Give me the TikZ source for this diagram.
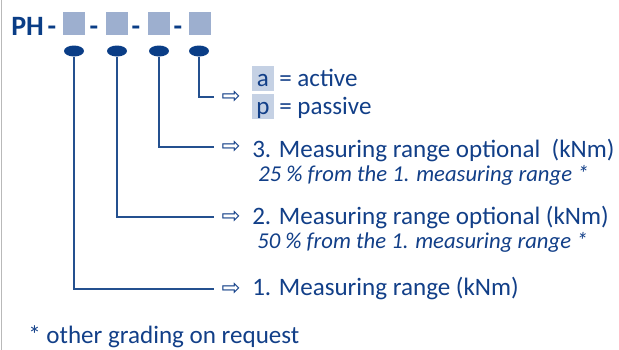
\documentclass[tikz,border=0pt]{standalone}
\usepackage{fontspec}
\setmainfont{Carlito}
\newfontfamily\arrowfont{DejaVu Sans}
\usetikzlibrary{shapes.geometric, positioning}

\definecolor{codeblue}{HTML}{0A3D86}
\definecolor{textblue}{HTML}{123F88}
\definecolor{leadblue}{HTML}{24508F}
\definecolor{slotblue}{HTML}{9DAFCF}
\definecolor{selblue}{HTML}{C5D1E4}

\begin{document}
\begin{tikzpicture}[x=0.75pt, y=-0.75pt,
    codetext/.style={inner sep=0pt, anchor=base, text=codeblue, font=\fontsize{21}{24}\selectfont\bfseries},
    slotbox/.style={rectangle, fill=slotblue, minimum width=16.5pt, minimum height=17.25pt, inner sep=0pt},
    dotmark/.style={ellipse, fill=codeblue, minimum width=15pt, minimum height=8.25pt, inner sep=0pt},
    leader/.style={draw=leadblue, line width=1pt},
    arrowsign/.style={inner sep=0pt, outer xsep=6pt, text=textblue, font=\arrowfont\fontsize{17}{19}\selectfont},
    rangetext/.style={inner sep=0pt, anchor=base west, text=textblue, font=\fontsize{18.8}{22}\selectfont},
    notetext/.style={inner sep=0pt, anchor=base west, text=textblue, font=\fontsize{17}{20}\selectfont\itshape},
    selbox/.style={rectangle, fill=selblue, anchor=base, minimum width=16.5pt, inner xsep=0pt, inner ysep=0pt,
      text height=15pt, text depth=3.75pt, text=textblue, font=\fontsize{18.8}{22}\selectfont}]
  \useasboundingbox (0,0) rectangle (619,350);
  \draw[gray!55, line width=1.1pt] (1.5,0) -- (1.5,350);

  % type code
  \node[codetext, anchor=base west] (ph) at (11,35) {PH};
  \node[codetext] (d1) at (52,35) {-};
  \node[slotbox] (sq1) at (74,23.5) {};
  \node[codetext] (d2) at (94,35) {-};
  \node[slotbox] (sq2) at (116.5,23.5) {};
  \node[codetext] (d3) at (136,35) {-};
  \node[slotbox] (sq3) at (158.5,23.5) {};
  \node[codetext] (d4) at (178,35) {-};
  \node[slotbox] (sq4) at (199.5,23.5) {};

  \node[dotmark] (dot1) at (74,51) {};
  \node[dotmark] (dot2) at (117,51) {};
  \node[dotmark] (dot3) at (159,51) {};
  \node[dotmark] (dot4) at (199,51) {};

  % arrows
  \node[arrowsign] (arr4) at (231,97) {⇨};
  \node[arrowsign] (arr3) at (231,147) {⇨};
  \node[arrowsign] (arr2) at (231,217) {⇨};
  \node[arrowsign] (arr1) at (231,289) {⇨};

  \draw[leader] (dot4.south) |- (arr4.west);
  \draw[leader] (dot3.south) |- (arr3.west);
  \draw[leader] (dot2.south) |- (arr2.west);
  \draw[leader] (dot1.south) |- (arr1.west);

  % meanings
  \node[selbox] (boxa) at (263,86) {a};
  \node[rangetext] (act) at (279,86) {= active};
  \node[selbox] (boxp) at (263,114) {p};
  \node[rangetext] (pas) at (279,114) {= passive};

  \node[rangetext] (rng3) at (252,157) {3. Measuring range optional\ \ (kNm)};
  \node[notetext] (note3) at (258,181) {25 \% from the 1. measuring range *};
  \node[rangetext] (rng2) at (252,224) {2. Measuring range optional (kNm)};
  \node[notetext] (note2) at (257,248) {50 \% from the 1. measuring range *};
  \node[rangetext] (rng1) at (252,295) {1. Measuring range (kNm)};

  \node[rangetext] (foot) at (28,343) {* other grading on request};
\end{tikzpicture}
\end{document}
